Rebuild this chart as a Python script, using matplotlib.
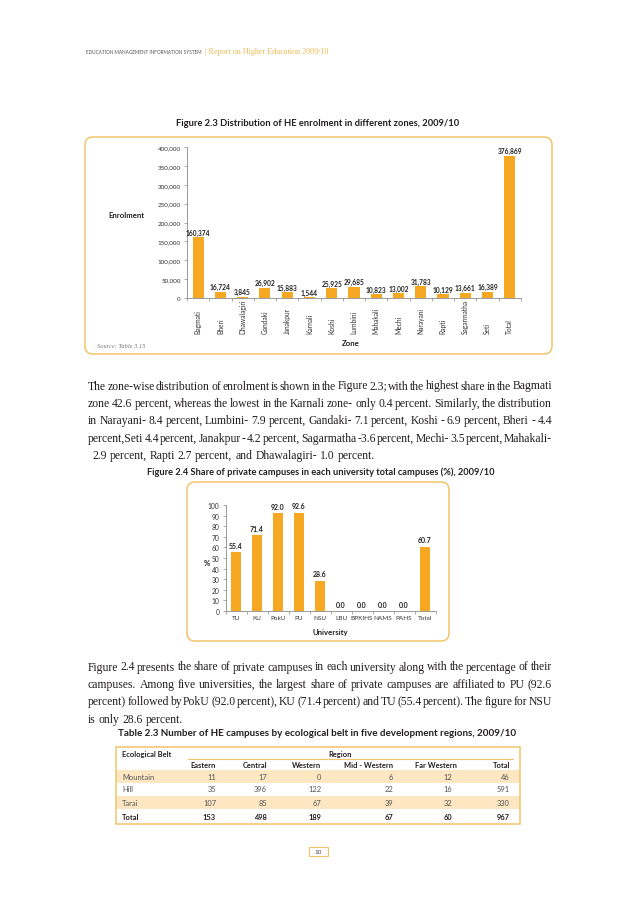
import numpy as np
import matplotlib
matplotlib.use('Agg')
import matplotlib.pyplot as plt
from matplotlib.patches import FancyBboxPatch, Rectangle
from matplotlib.lines import Line2D
from matplotlib.transforms import Affine2D, blended_transform_factory

# ---- data ----
zones = ['Bagmati', 'Bheri', 'Dhawalagiri', 'Gandaki', 'Janakpur', 'Karnali', 'Koshi',
         'Lumbini', 'Mahakali', 'Mechi', 'Narayani', 'Rapti', 'Sagarmatha', 'Seti', 'Total']
enrolment = [160374, 16724, 3845, 26902, 15883, 1544, 25925, 29685, 10823, 13002,
             31783, 10129, 13661, 16389, 376869]

universities = ['TU', 'KU', 'PokU', 'PU', 'NSU', 'LBU', 'BPKIHS', 'NAMS', 'PAHS', 'Total']
private_share = [55.4, 71.4, 92.0, 92.6, 28.6, 0.0, 0.0, 0.0, 0.0, 60.7]

belts = ['Mountain', 'Hill', 'Tarai', 'Total']
regions = ['Eastern', 'Central', 'Western', 'Mid - Western', 'Far Western', 'Total']
campuses = [[11, 17, 0, 6, 12, 46],
            [35, 396, 122, 22, 16, 591],
            [107, 85, 67, 39, 32, 330],
            [153, 498, 189, 67, 60, 967]]

para1 = [
    "The zone-wise distribution of enrolment is shown in the Figure 2.3; with the highest share in the Bagmati",
    "zone 42.6 percent, whereas the lowest in the Karnali zone- only 0.4 percent. Similarly, the distribution",
    "in Narayani- 8.4 percent, Lumbini- 7.9 percent, Gandaki- 7.1 percent, Koshi - 6.9 percent, Bheri - 4.4",
    "percent,Seti 4.4 percent, Janakpur - 4.2 percent, Sagarmatha -3.6 percent, Mechi- 3.5 percent, Mahakali-",
    "2.9 percent, Rapti 2.7 percent, and Dhawalagiri- 1.0 percent.",
]
para2 = [
    "Figure 2.4 presents the share of private campuses in each university along with the percentage of their",
    "campuses. Among five universities, the largest share of private campuses are affiliated to PU (92.6",
    "percent) followed by PokU (92.0 percent), KU (71.4 percent) and TU (55.4 percent). The figure for NSU",
    "is only 28.6 percent.",
]

# ---- style ----
W, H = 638, 903
BAR = '#F7A823'
FRAME = '#F1C46A'
AXC = '#8a8a8a'
TXT = '#231f20'
SANS = ['Lato', 'DejaVu Sans']
SERIF = ['Liberation Serif', 'DejaVu Serif']

fig = plt.figure(figsize=(W / 100, H / 100), dpi=100)
renderer = fig.canvas.get_renderer()
# pixel coordinates measured from the top-left corner
px = Affine2D().scale(1 / 100, -1 / 100).translate(0, H / 100) + fig.dpi_scale_trans


def ptext(x, y, s, **kw):
    kw.setdefault('family', SANS)
    kw.setdefault('color', TXT)
    return fig.text(x, y, s, transform=px, **kw)


def fit(x, y, s, width, size=6, **kw):
    # shrink / grow a text so it spans the width seen in the page
    t = ptext(x, y, s, fontsize=size, **kw)
    w = t.get_window_extent(renderer).width
    t.set_fontsize(size * width / w)
    return t


def rbox(x0, y0, x1, y1, r=8):
    p = FancyBboxPatch((x0, y0), x1 - x0, y1 - y0,
                       boxstyle=f'round,pad=0,rounding_size={r}',
                       transform=px, fc='none', ec=FRAME, lw=1.1)
    fig.add_artist(p)


def axes_px(x0, y0, x1, y1):
    # y0 top, y1 bottom
    return fig.add_axes([x0 / W, 1 - y1 / H, (x1 - x0) / W, (y1 - y0) / H])


def style_axes(ax, n):
    for s in ['top', 'right']:
        ax.spines[s].set_visible(False)
    for s in ['left', 'bottom']:
        ax.spines[s].set_color(AXC)
        ax.spines[s].set_linewidth(0.6)
    ax.set_xticks(np.arange(-0.5, n, 1))
    ax.set_xticklabels([])
    ax.tick_params(axis='both', direction='out', length=2.5, width=0.5, color=AXC, pad=2)
    ax.set_facecolor('none')


# ---- header ----
fit(86, 52, 'EDUCATION MANAGEMENT INFORMATION SYSTEM', 116, color='#555555', va='center')
fit(205, 52, '| Report on Higher Education 2009/10', 126, family=SERIF,
    color='#E9BA55', va='center')

# ---- figure 2.3 ----
fit(318, 124, 'Figure 2.3 Distribution of HE enrolment in different zones, 2009/10', 283,
    fontweight='bold', ha='center', va='center')
rbox(85, 138, 552, 355)

ax1 = axes_px(187, 148, 521, 299)
x1 = np.arange(len(zones))
ax1.bar(x1, enrolment, width=0.5, color=BAR)
ax1.set_xlim(-0.5, len(zones) - 0.5)
ax1.set_ylim(0, 400000)
style_axes(ax1, len(zones))
yt = np.arange(0, 400001, 50000)
ax1.set_yticks(yt)
ax1.set_yticklabels([f'{v:,}' for v in yt], fontsize=4.5, family=SANS, color='#333333')
for i, v in enumerate(enrolment):
    ax1.annotate(f'{v:,}', (i, v), xytext=(0, 1), textcoords='offset points',
                 ha='center', va='bottom', fontsize=4.8, fontweight='bold',
                 family=SANS, color='#222222')
bt1 = blended_transform_factory(ax1.transData, ax1.transAxes)
for i, z in enumerate(zones):
    ax1.text(i, -(334 - 299) / 151, z, transform=bt1, rotation=90, ha='center',
             va='bottom', fontsize=4.8, family=SANS, color='#333333')
ptext(351, 343, 'Zone', fontsize=5.6, fontweight='bold', ha='center', va='center')
ptext(126, 215, 'Enrolment', fontsize=5.6, fontweight='bold', ha='center', va='center')
ptext(97, 347, 'Source: Table 3.15', fontsize=4.6, family=SERIF, style='italic',
      color='#777777', va='center')


def justify(lines, base, step, x0=88, x1=552, size=8.4, last_x=None):
    space = size * 100 / 72 * 0.25
    for k, line in enumerate(lines):
        y = base + k * step
        words = line.split(' ')
        arts = [ptext(0, y, w, fontsize=size, family=SERIF, va='baseline') for w in words]
        widths = [a.get_window_extent(renderer).width for a in arts]
        last = k == len(lines) - 1
        start = last_x if (last and last_x) else x0
        gap = space if last else (x1 - x0 - sum(widths)) / (len(words) - 1)
        x = start
        for a, w in zip(arts, widths):
            a.set_position((x, y))
            x += w + gap


# ---- paragraph 1 ----
justify(para1, 389.5, 17.4, last_x=92)

# ---- figure 2.4 ----
fit(321, 472, 'Figure 2.4 Share of private campuses in each university total campuses (%), 2009/10',
    350, fontweight='bold', ha='center', va='center')
rbox(187, 483, 449, 642)

ax2 = axes_px(225.5, 506, 435.5, 612)
x2 = np.arange(len(universities))
ax2.bar(x2, private_share, width=0.48, color=BAR)
ax2.set_xlim(-0.5, len(universities) - 0.5)
ax2.set_ylim(0, 100)
style_axes(ax2, len(universities))
ax2.set_yticks(np.arange(0, 101, 10))
ax2.set_yticklabels([str(v) for v in range(0, 101, 10)], fontsize=4.8, family=SANS,
                    color='#333333')
for i, v in enumerate(private_share):
    ax2.annotate(f'{v:.1f}', (i, v), xytext=(0, 2.5), textcoords='offset points',
                 ha='center', va='bottom', fontsize=5, fontweight='bold',
                 family=SANS, color='#222222')
bt2 = blended_transform_factory(ax2.transData, ax2.transAxes)
for i, u in enumerate(universities):
    ax2.text(i, -(619 - 612) / 106, u, transform=bt2, ha='center', va='center',
             fontsize=4.6, family=SANS, color='#333333')
ptext(207, 564, '%', fontsize=5.6, fontweight='bold', ha='center', va='center')
ptext(330, 633, 'University', fontsize=5.6, fontweight='bold', ha='center', va='center')

# ---- paragraph 2 ----
justify(para2, 670.5, 17.4)

# ---- table 2.3 ----
fit(317, 733, 'Table 2.3 Number of HE campuses by ecological belt in five development regions, 2009/10',
    399, fontweight='bold', ha='center', va='center')
tx0, tx1, ty0, ty1 = 116, 520, 748, 825
row_y = [777, 790, 803, 817]
for k in (0, 2):
    fig.add_artist(Rectangle((tx0, row_y[k] - 6.5), tx1 - tx0, 13, transform=px,
                             fc='#FDE6C2', ec='none'))
fig.add_artist(Rectangle((tx0, ty0), tx1 - tx0, ty1 - ty0, transform=px,
                         fc='none', ec=FRAME, lw=1.1))
fig.add_artist(Line2D([188, 513], [760, 760], transform=px, color=FRAME, lw=0.8))
ptext(122, 755, 'Ecological Belt', fontsize=5.4, fontweight='bold', va='center')
ptext(340, 755, 'Region', fontsize=5.4, fontweight='bold', ha='center', va='center')
col_x = [216, 267, 321, 393, 452, 510]
for c, r in zip(col_x, regions):
    ptext(c + (5 if r == 'Far Western' else 0), 766, r, fontsize=5.4,
          fontweight='bold', ha='right', va='center')
for k, b in enumerate(belts):
    bold = 'bold' if b == 'Total' else 'normal'
    col = TXT if b == 'Total' else '#555555'
    ptext(122, row_y[k], b, fontsize=5.4, fontweight=bold, color=col, va='center')
    for c, v in zip(col_x, campuses[k]):
        ptext(c, row_y[k], str(v), fontsize=5.4, fontweight=bold, color=col,
              ha='right', va='center')

# ---- page number ----
fig.add_artist(Rectangle((309, 848), 19, 9, transform=px, fc='none', ec=FRAME, lw=0.8))
ptext(318.5, 852.5, '10', fontsize=4.6, ha='center', va='center', color='#444444')

fig.savefig('out.png', dpi=100)
